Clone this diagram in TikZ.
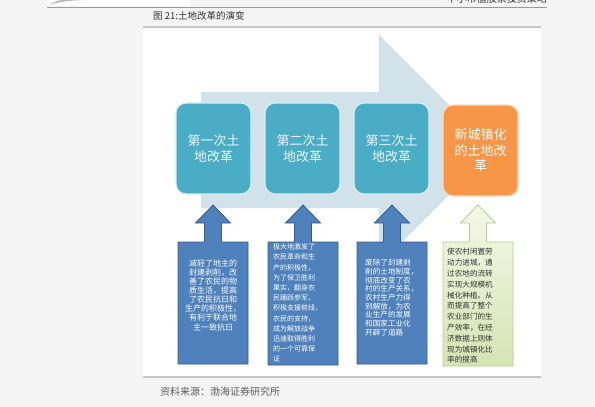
\documentclass[tikz,border=0pt]{standalone}
\usepackage{fontspec}
\setmainfont{Noto Sans CJK SC}
\newfontfamily\cjk{Noto Sans CJK SC}
\definecolor{pagebg}{HTML}{F4F4F4}
\definecolor{bigarrow}{HTML}{D2E2EA}
\definecolor{tealbox}{HTML}{4BACC6}
\definecolor{tealedge}{HTML}{D6EEF4}
\definecolor{orngbox}{HTML}{F79646}
\definecolor{orngedge}{HTML}{FBD9BF}
\definecolor{calfill}{HTML}{4F81BD}
\definecolor{caledge}{HTML}{385D8A}
\definecolor{grntop}{HTML}{F3F8E8}
\definecolor{grnbot}{HTML}{D5E4B3}
\definecolor{grnedge}{HTML}{B7CD8C}
\definecolor{titletext}{HTML}{EAF6FA}
\definecolor{darktext}{HTML}{333333}
\tikzset{
  titlebox/.style={rounded corners=10pt, minimum width=75pt, minimum height=91pt,
    line width=1.3pt, align=center, text=titletext, inner sep=0pt,
    font=\cjk\fontsize{13}{15.5}\selectfont},
  callout/.style={fill=calfill, draw=caledge, line width=0.8pt, line join=miter},
  greencallout/.style={top color=grntop, bottom color=grnbot, draw=grnedge, line width=0.8pt},
  caltext/.style={inner sep=0pt, text=white},
}
\newcommand{\upcallout}[3]{%
  \path[#1] (#2,205) -- (#2+17.5,223) -- (#2+8.5,223) -- (#2+8.5,242) -- (#2+35,242)
    -- (#2+35,#3) -- (#2-35,#3) -- (#2-35,242) -- (#2-8.5,242) -- (#2-8.5,223)
    -- (#2-17.5,223) -- cycle;}
\begin{document}
\begin{tikzpicture}[x=1pt,y=-1pt]
\useasboundingbox (0,0) rectangle (595,407);
\fill[pagebg] (0,0) rectangle (595,407);
\begin{scope}
\clip (0,0) rectangle (595,407);
% header fragments
\fill[white] (47,0) rectangle (190,5.5);
\fill[gray!55] (49,5) .. controls (58,2) and (68,0.5) .. (84,0) -- (62,0) .. controls (56,1) .. (49,5) -- cycle;
\node[anchor=base east, inner sep=0pt, text=darktext, font=\cjk\fontsize{10}{10}\selectfont] (hdr) at (547,2.6) {中小市值股票投资策略};
\end{scope}
\draw[gray!80, line width=0.8pt] (47,7) -- (547,7);
% caption
\node[anchor=west, inner sep=0pt, text=darktext, font=\cjk\fontsize{9.5}{9.5}\selectfont] (cap) at (153,16) {图 21:土地改革的演变};
% panel
\fill[white] (143,27) rectangle (541,377);
\draw[gray!45, line width=2pt] (143,27) -- (541,27);
\draw[gray!45, line width=2pt] (143,377) -- (541,377);
% big arrow
\fill[bigarrow] (201,92) -- (379,92) -- (379,35) -- (494,150) -- (379,265) -- (379,208) -- (201,208) -- cycle;
% title boxes
\node[titlebox, fill=tealbox, draw=tealedge] (b1) at (213.5,148.5) {第一次土\\地改革};
\node[titlebox, fill=tealbox, draw=tealedge] (b2) at (302.5,148.5) {第二次土\\地改革};
\node[titlebox, fill=tealbox, draw=tealedge] (b3) at (391.5,148.5) {第三次土\\地改革};
\node[titlebox, fill=orngbox, draw=orngedge, text=white] (b4) at (480.5,150.5) {新城镇化\\的土地改\\革};
% up callouts
\upcallout{callout}{213}{364}
\upcallout{callout}{303}{365}
\upcallout{callout}{392}{364}
\upcallout{greencallout}{478}{366}
% callout texts
\node[caltext, align=center, font=\cjk\fontsize{8}{9.15}\selectfont] (t1) at (213,295)
  {减轻了地主的\\封建剥削，改\\善了农民的物\\质生活，提高\\了农民抗日和\\生产的积极性，\\有利于联合地\\主一致抗日};
\node[caltext, align=left, anchor=west, font=\cjk\fontsize{7}{10.2}\selectfont] (t2) at (273,303)
  {极大地激发了\\农民革命和生\\产的积极性，\\为了保卫胜利\\果实，翻身农\\民踊跃参军，\\积极支援前线，\\农民的支持，\\成为解放战争\\迅速取得胜利\\的一个可靠保\\证};
\node[caltext, align=left, anchor=west, font=\cjk\fontsize{7.6}{8.65}\selectfont] (t3) at (365,297.5)
  {废除了封建剥\\削的土地制度，\\彻底改变了农\\村的生产关系，\\农村生产力得\\到解放，为农\\业生产的发展\\和国家工业化\\开辟了道路};
\node[caltext, align=left, anchor=west, text=darktext, font=\cjk\fontsize{7.6}{10.8}\selectfont] (t4) at (447,306)
  {使农村闲置劳\\动力进城，通\\过农地的流转\\实现大规模机\\械化种植。从\\而提高了整个\\农业部门的生\\产效率，在经\\济数据上则体\\现为城镇化比\\率的提高};
% source
\node[anchor=west, inner sep=0pt, text=darktext!80, font=\cjk\fontsize{10}{10}\selectfont] (src) at (160,392) {资料来源：渤海证券研究所};
\end{tikzpicture}
\end{document}
